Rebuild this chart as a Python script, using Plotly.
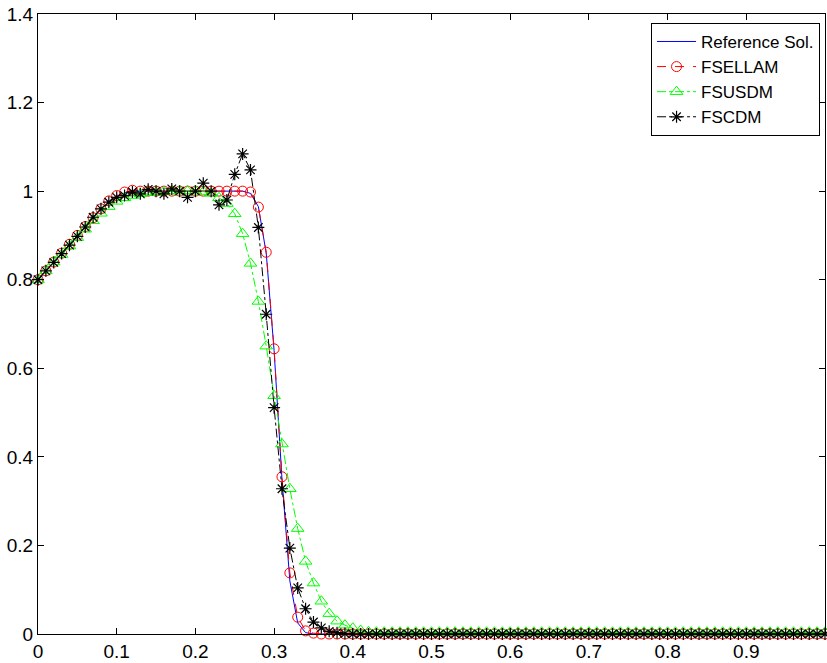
import numpy as np
import plotly.graph_objects as go

# grid of x positions (0 to 1, step 0.01)
x = np.round(np.linspace(0, 1, 101), 2)

ref_sol = [0.80, 0.82, 0.84, 0.86, 0.88, 0.90, 0.92, 0.94, 0.96, 0.976,
           0.988, 0.996, 1.0, 1.0, 1.0, 1.0, 1.0, 1.0, 1.0, 1.0,
           1.0, 1.0, 1.0, 1.0, 1.0, 1.0, 1.0, 0.995, 0.965, 0.86,
           0.64, 0.35, 0.12, 0.025, 0.003, 0.0, 0.0, 0.0, 0.0, 0.0,
           0.0, 0.0, 0.0, 0.0, 0.0, 0.0, 0.0, 0.0, 0.0, 0.0,
           0.0, 0.0, 0.0, 0.0, 0.0, 0.0, 0.0, 0.0, 0.0, 0.0,
           0.0, 0.0, 0.0, 0.0, 0.0, 0.0, 0.0, 0.0, 0.0, 0.0,
           0.0, 0.0, 0.0, 0.0, 0.0, 0.0, 0.0, 0.0, 0.0, 0.0,
           0.0, 0.0, 0.0, 0.0, 0.0, 0.0, 0.0, 0.0, 0.0, 0.0,
           0.0, 0.0, 0.0, 0.0, 0.0, 0.0, 0.0, 0.0, 0.0, 0.0,
           0.0]

fsellam = [0.80, 0.82, 0.84, 0.86, 0.88, 0.90, 0.92, 0.94, 0.96, 0.978,
           0.99, 0.998, 1.002, 1.0, 1.0, 1.0, 1.0, 1.0, 1.0, 1.0,
           1.0, 1.0, 1.0, 1.0, 1.0, 1.0, 1.0, 0.998, 0.964, 0.862,
           0.644, 0.355, 0.138, 0.038, 0.007, 0.002, 0.0, 0.0, 0.0, 0.0,
           0.0, 0.0, 0.0, 0.0, 0.0, 0.0, 0.0, 0.0, 0.0, 0.0,
           0.0, 0.0, 0.0, 0.0, 0.0, 0.0, 0.0, 0.0, 0.0, 0.0,
           0.0, 0.0, 0.0, 0.0, 0.0, 0.0, 0.0, 0.0, 0.0, 0.0,
           0.0, 0.0, 0.0, 0.0, 0.0, 0.0, 0.0, 0.0, 0.0, 0.0,
           0.0, 0.0, 0.0, 0.0, 0.0, 0.0, 0.0, 0.0, 0.0, 0.0,
           0.0, 0.0, 0.0, 0.0, 0.0, 0.0, 0.0, 0.0, 0.0, 0.0,
           0.0]

fsusdm = [0.80, 0.82, 0.84, 0.857, 0.876, 0.895, 0.914, 0.933, 0.95, 0.965,
          0.977, 0.985, 0.99, 0.994, 0.997, 0.998, 0.999, 1.0, 1.0, 1.0,
          1.0, 0.999, 0.995, 0.985, 0.972, 0.949, 0.904, 0.837, 0.751, 0.65,
          0.538, 0.429, 0.328, 0.238, 0.164, 0.115, 0.074, 0.046, 0.029, 0.02,
          0.013, 0.008, 0.005, 0.004, 0.004, 0.004, 0.004, 0.004, 0.004, 0.004,
          0.004, 0.004, 0.004, 0.004, 0.004, 0.004, 0.004, 0.004, 0.004, 0.004,
          0.004, 0.004, 0.004, 0.004, 0.004, 0.004, 0.004, 0.004, 0.004, 0.004,
          0.004, 0.004, 0.004, 0.004, 0.004, 0.004, 0.004, 0.004, 0.004, 0.004,
          0.004, 0.004, 0.004, 0.004, 0.004, 0.004, 0.004, 0.004, 0.004, 0.004,
          0.004, 0.004, 0.004, 0.004, 0.004, 0.004, 0.004, 0.004, 0.004, 0.004,
          0.004]

fscdm = [0.80, 0.82, 0.839, 0.859, 0.878, 0.898, 0.919, 0.941, 0.96, 0.975,
         0.986, 0.99, 0.998, 0.994, 1.004, 1.0, 0.994, 1.005, 1.0, 0.986,
         1.0, 1.018, 1.0, 0.969, 0.98, 1.038, 1.084, 1.048, 0.918, 0.722,
         0.511, 0.328, 0.194, 0.104, 0.057, 0.027, 0.014, 0.006, 0.003, 0.001,
         0.0, 0.0, 0.0, 0.0, 0.0, 0.0, 0.0, 0.0, 0.0, 0.0,
         0.0, 0.0, 0.0, 0.0, 0.0, 0.0, 0.0, 0.0, 0.0, 0.0,
         0.0, 0.0, 0.0, 0.0, 0.0, 0.0, 0.0, 0.0, 0.0, 0.0,
         0.0, 0.0, 0.0, 0.0, 0.0, 0.0, 0.0, 0.0, 0.0, 0.0,
         0.0, 0.0, 0.0, 0.0, 0.0, 0.0, 0.0, 0.0, 0.0, 0.0,
         0.0, 0.0, 0.0, 0.0, 0.0, 0.0, 0.0, 0.0, 0.0, 0.0,
         0.0]

x_ticks = [0, 0.1, 0.2, 0.3, 0.4, 0.5, 0.6, 0.7, 0.8, 0.9]
x_tick_labels = ["0", "0.1", "0.2", "0.3", "0.4", "0.5", "0.6", "0.7", "0.8", "0.9"]
y_ticks = [0, 0.2, 0.4, 0.6, 0.8, 1.0, 1.2, 1.4]
y_tick_labels = ["0", "0.2", "0.4", "0.6", "0.8", "1", "1.2", "1.4"]

FONT = "Liberation Sans, Arial, Helvetica, sans-serif"

fig = go.Figure()
fig.add_trace(go.Scatter(
    x=x, y=ref_sol, mode="lines", name="Reference Sol.",
    line=dict(color="#0000ff", width=1), cliponaxis=False))
fig.add_trace(go.Scatter(
    x=x, y=fsellam, mode="lines+markers", name="FSELLAM",
    line=dict(color="#ff0000", width=1, dash="dash"),
    marker=dict(symbol="circle-open", size=10, color="#ff0000",
                line=dict(color="#ff0000", width=1)),
    cliponaxis=False))
fig.add_trace(go.Scatter(
    x=x, y=fsusdm, mode="lines+markers", name="FSUSDM",
    line=dict(color="#00ff00", width=1, dash="dashdot"),
    marker=dict(symbol="triangle-up-open", size=11, color="#00ff00",
                line=dict(color="#00ff00", width=1)),
    cliponaxis=False))
fig.add_trace(go.Scatter(
    x=x, y=fscdm, mode="lines+markers", name="FSCDM",
    line=dict(color="#000000", width=1, dash="dashdot"),
    marker=dict(symbol="asterisk-open", size=10, color="#000000",
                line=dict(color="#000000", width=1.2)),
    cliponaxis=False))

axis_common = dict(
    showline=True, linecolor="black", linewidth=1, mirror="ticks",
    ticks="inside", ticklen=6, tickcolor="black", tickwidth=1,
    showgrid=False, zeroline=False,
    tickfont=dict(family=FONT, size=19, color="black"),
)

fig.update_layout(
    width=827, height=663,
    margin=dict(l=38, r=1, t=14, b=25),
    paper_bgcolor="white", plot_bgcolor="white",
    font=dict(family=FONT, size=19, color="black"),
    showlegend=True,
    legend=dict(
        x=0.9937, y=0.9856, xanchor="right", yanchor="top",
        bgcolor="white", bordercolor="black", borderwidth=1,
        font=dict(family=FONT, size=17, color="black"),
        tracegroupgap=0, itemwidth=39,
    ),
    xaxis=dict(range=[0, 1], tickvals=x_ticks, ticktext=x_tick_labels, **axis_common),
    yaxis=dict(range=[0, 1.4], tickvals=y_ticks, ticktext=y_tick_labels, **axis_common),
)

fig.write_html("out.html",
               config={"displayModeBar": False},
               post_script="document.body.style.margin='0px';document.body.style.padding='0px';")
